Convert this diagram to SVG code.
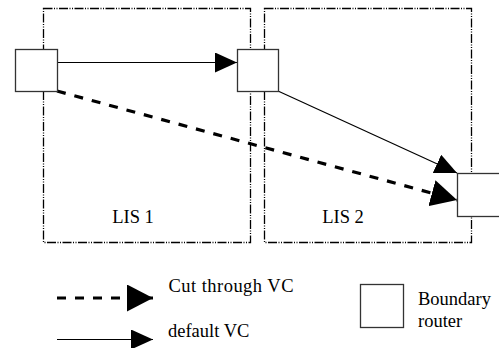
<svg xmlns="http://www.w3.org/2000/svg" width="499" height="348" viewBox="0 0 499 348">
<style>
.lis{fill:none;stroke:#000;stroke-width:1.3;stroke-dasharray:9 1.5 1 1.5 1 1.5}
.rt{fill:#fff;stroke:#333;stroke-width:1.3}
.sol{fill:none;stroke:#000;stroke-width:1.2}
.dash{fill:none;stroke:#000;stroke-width:3.2;stroke-dasharray:9 9}
.t{font-family:"Liberation Serif","Times New Roman","DejaVu Serif",serif;font-size:18.5px;fill:#000}
</style>
<defs>
<marker id="ah" markerUnits="userSpaceOnUse" markerWidth="22" markerHeight="20" refX="22" refY="10" orient="auto"><path d="M0,0 L22,10 L0,20 Z" fill="#000"/></marker>
<marker id="ahd" markerUnits="userSpaceOnUse" markerWidth="26" markerHeight="27" refX="26" refY="13.5" orient="auto"><path d="M0,0 L26,13.5 L0,27 Z" fill="#000"/></marker>
</defs>
<g id="lis1"><rect class="lis" x="43.5" y="8.5" width="207" height="234"/><text class="t" x="133" y="223" text-anchor="middle">LIS 1</text></g>
<g id="lis2"><rect class="lis" x="264.5" y="8.5" width="207" height="234"/><text class="t" x="343" y="223" text-anchor="middle">LIS 2</text></g>
<g id="connectors">
<line class="sol" x1="57" y1="62.5" x2="237" y2="62.5" marker-end="url(#ah)"/>
<line class="sol" x1="278" y1="91" x2="457" y2="173" marker-end="url(#ah)"/>
<line class="dash" x1="57" y1="91" x2="457" y2="200" marker-end="url(#ahd)"/>
</g>
<g id="router1"><rect class="rt" x="15.5" y="49.5" width="42" height="42"/></g>
<g id="router2"><rect class="rt" x="237.5" y="49.5" width="41" height="42"/></g>
<g id="router3"><rect class="rt" x="457.5" y="173.5" width="45" height="43"/></g>
<g id="legend">
<line class="dash" x1="57" y1="298" x2="153" y2="298" marker-end="url(#ahd)"/>
<text class="t" x="168.5" y="292" textLength="125" lengthAdjust="spacing">Cut through VC</text>
<line class="sol" x1="57" y1="339.5" x2="153" y2="339.5" marker-end="url(#ah)"/>
<text class="t" x="168" y="337">default VC</text>
<rect class="rt" x="360.5" y="284.5" width="43" height="43"/>
<text class="t" x="418" y="305">Boundary</text>
<text class="t" x="418" y="327">router</text>
</g>
</svg>
